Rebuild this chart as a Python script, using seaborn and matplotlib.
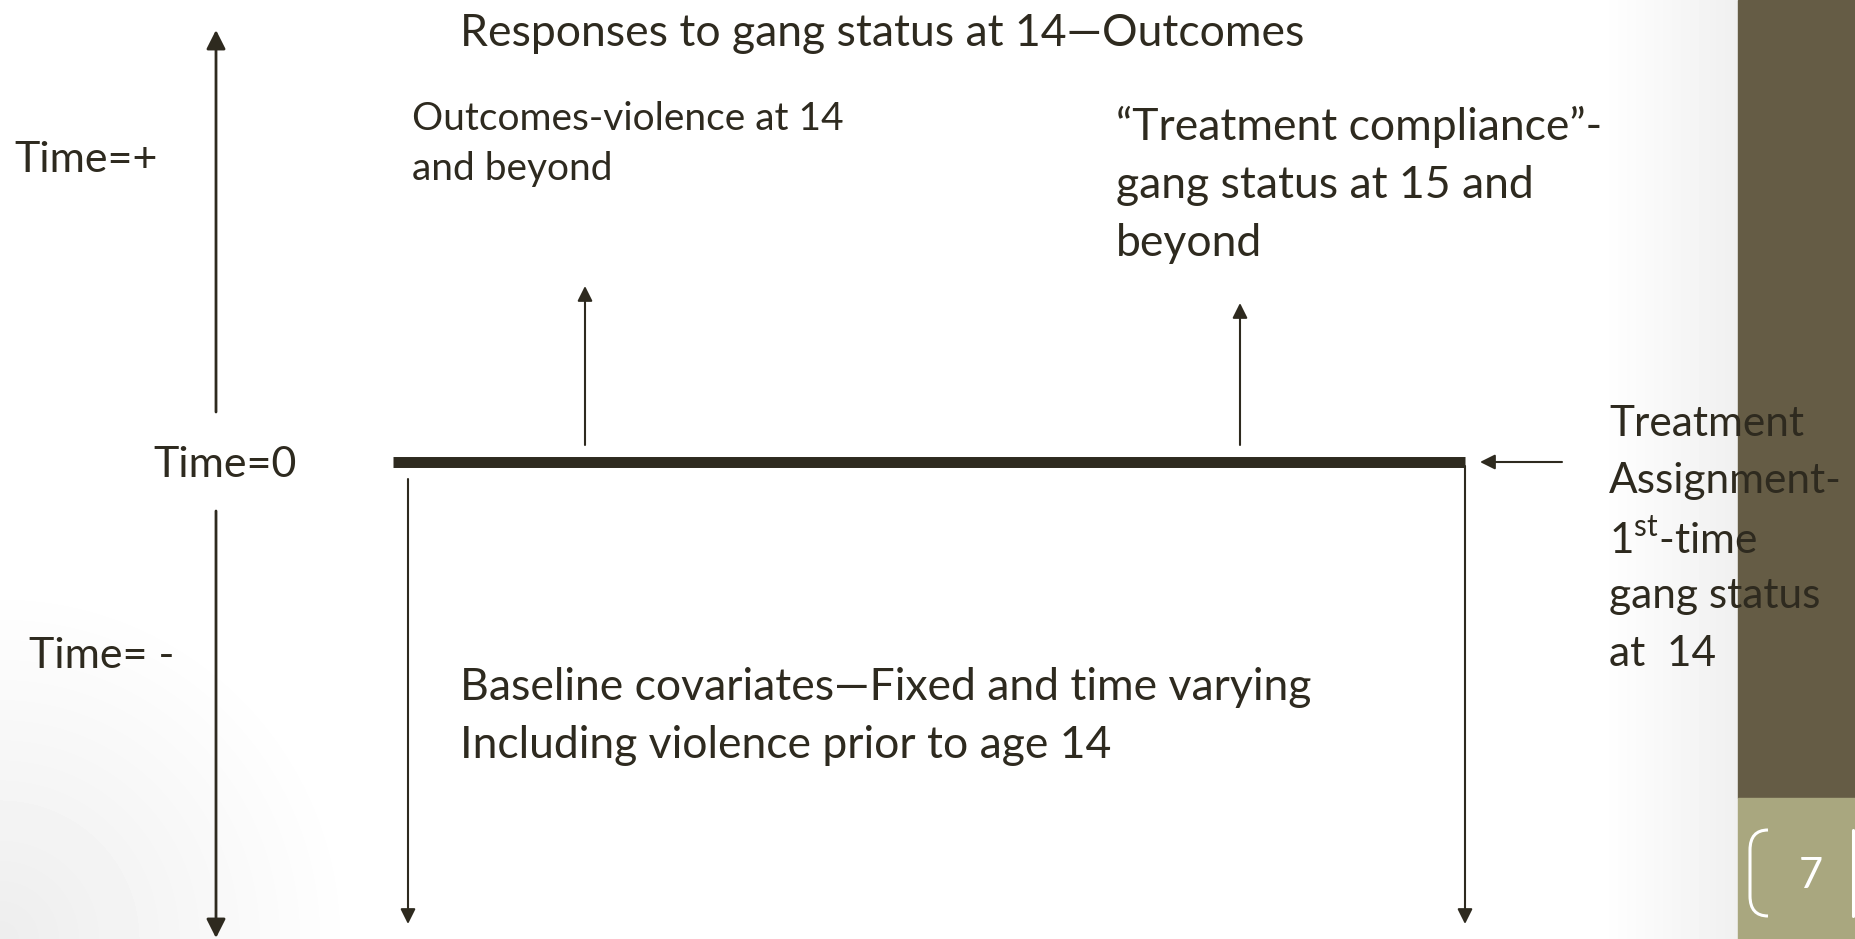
import numpy as np
import matplotlib
matplotlib.use("Agg")
import matplotlib.pyplot as plt
import seaborn as sns
from matplotlib.patches import FancyArrowPatch, Rectangle, PathPatch
from matplotlib.path import Path

# diagram labels
title = "Responses to gang status at 14\u2014Outcomes"
time_labels = ["Time=+", "Time=0", "Time= -"]
outcome_lines = ["Outcomes-violence at 14", "and beyond"]
compliance_lines = ["\u201cTreatment compliance\u201d-", "gang status at 15 and", "beyond"]
baseline_lines = ["Baseline covariates\u2014Fixed and time varying",
                  "Including violence prior to age 14"]
treatment_lines = ["Treatment", "Assignment-", "1$^{\\rm st}$-time", "gang status", "at  14"]
page_number = "7"

sns.set_theme(style="white")
plt.rcParams['font.family'] = ['Lato', 'DejaVu Sans']
plt.rcParams['mathtext.fontset'] = 'custom'
plt.rcParams['mathtext.rm'] = 'Lato'

INK = '#2e2a1f'
DARK = '#655c45'
OLIVE = '#a9a77f'
W, H = 1856, 939

fig = plt.figure(figsize=(W / 100, H / 100), dpi=100)
ax = fig.add_axes([0, 0, 1, 1])
ax.set_xlim(0, W)
ax.set_ylim(H, 0)
ax.axis('off')

# soft grey shading (bottom-left corner and next to the side panel)
xx, yy = np.meshgrid(np.arange(W), np.arange(H))
shade = np.ones((H, W))
r = np.hypot(xx, yy - H)
shade -= 0.07 * np.clip(1 - r / 360, 0, 1)
shade -= 0.06 * np.clip((xx - 1600) / 137, 0, 1) * (xx < 1738)
ax.imshow(shade, cmap='gray', vmin=0, vmax=1, extent=(0, W, H, 0), zorder=0)

# side panels
ax.add_patch(Rectangle((1738, 0), W - 1738, 798, color=DARK, zorder=1))
ax.add_patch(Rectangle((1738, 798), W - 1738, H - 798, color=OLIVE, zorder=1))


def arrow(p0, p1, lw=1.5, hl=9, hw=4.5):
    ax.add_patch(FancyArrowPatch(p0, p1, arrowstyle=f'-|>,head_length={hl},head_width={hw}',
                                 mutation_scale=1, shrinkA=0, shrinkB=0,
                                 color=INK, lw=lw, zorder=3))


# time axis
arrow((216, 412), (216, 30), lw=2, hl=11.5, hw=5.8)
arrow((216, 511), (216, 938), lw=2, hl=11.5, hw=5.8)

# treatment bar and arrows
ax.plot([393, 1465], [462, 462], color=INK, lw=7.9, solid_capstyle='butt', zorder=3)
arrow((585, 445), (585, 286))
arrow((1240, 445), (1240, 303))
arrow((408, 479), (408, 924))
arrow((1465, 466), (1465, 924))
arrow((1562, 462), (1480, 462))

txt = dict(color=INK, va='center', ha='left', zorder=4)
dy = 3
ax.text(14, 157 + dy, time_labels[0], fontsize=31, **txt)
ax.text(153, 462 + dy, time_labels[1], fontsize=31, **txt)
ax.text(29, 653 + dy, time_labels[2], fontsize=31, **txt)
ax.text(460, 30 + dy, title, fontsize=32, **txt)
for y, s in zip([116, 166], outcome_lines):
    ax.text(412, y + dy, s, fontsize=28, **txt)
for y, s in zip([124, 183, 240], compliance_lines):
    ax.text(1116, y + dy, s, fontsize=32, **txt)
for y, s in zip([685, 743], baseline_lines):
    ax.text(460, y + dy, s, fontsize=32, **txt)
for y, s in zip([421, 478, 536, 593, 651], treatment_lines):
    ax.text(1609, y + dy, s, fontsize=30.5, **txt)

# page number with brackets
ax.text(1811, 876, page_number, color='white', fontsize=30,
        ha='center', va='center', zorder=4)
br = Path([(1768, 830), (1750, 830), (1750, 850), (1750, 896), (1750, 916), (1768, 916)],
          [Path.MOVETO, Path.CURVE3, Path.CURVE3, Path.LINETO, Path.CURVE3, Path.CURVE3])
ax.add_patch(PathPatch(br, fill=False, edgecolor='white', lw=2.2, zorder=4))
ax.plot([1853, 1853], [830, 916], color='white', lw=2.2, zorder=4)

fig.savefig('out.png', dpi=100)
